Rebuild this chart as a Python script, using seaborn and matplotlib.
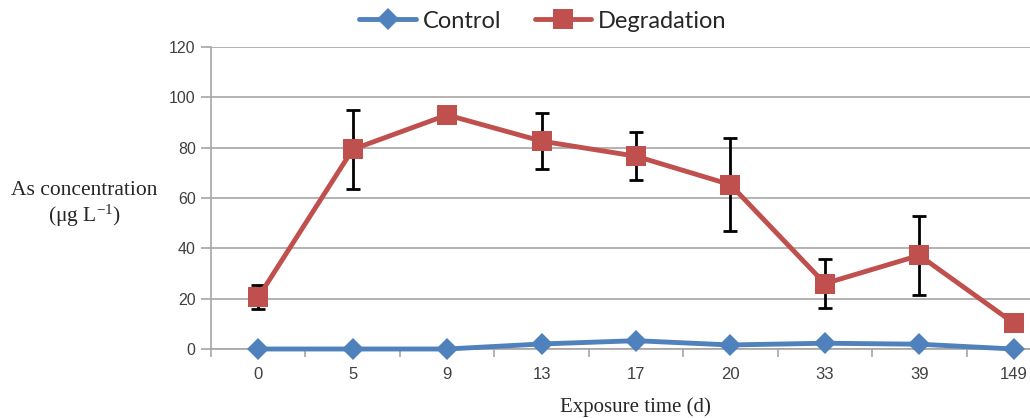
import pandas as pd
import matplotlib.pyplot as plt
import seaborn as sns
import numpy as np

# exposure days (categorical axis)
days = ['0', '5', '9', '13', '17', '20', '33', '39', '149']

# As concentration
control = [0.0, 0.0, 0.0, 2.0, 3.3, 1.6, 2.3, 1.9, 0.0]
degradation = [20.5, 79.3, 93.0, 82.6, 76.6, 65.3, 26.0, 37.2, 10.3]
degradation_err = [4.8, 15.8, 0.0, 11.2, 9.5, 18.6, 9.7, 15.6, 0.0]

ctrl_df = pd.DataFrame({'day': days, 'conc': control})
deg_df = pd.DataFrame({'day': days, 'conc': degradation})

sns.set_style('white')
plt.rcParams['font.family'] = ['Liberation Sans', 'DejaVu Sans']

blue = '#4F81BD'
red = '#C0504D'
grid_col = '#A6A6A6'

fig = plt.figure(figsize=(10.30, 4.18), dpi=100)
ax = fig.add_axes([211 / 1030, 1 - 349 / 418, 850 / 1030, 302 / 418])

sns.lineplot(data=ctrl_df, x='day', y='conc', color=blue, marker='D',
             markersize=11, markeredgewidth=0, linewidth=3.5, sort=False,
             label='Control', ax=ax, zorder=3, clip_on=False)
sns.lineplot(data=deg_df, x='day', y='conc', color=red, marker='s',
             markersize=14, markeredgewidth=0, linewidth=3.5, sort=False,
             label='Degradation', ax=ax, zorder=3, clip_on=False)

# error bars on degradation series
ax.errorbar(days, degradation, yerr=degradation_err, fmt='none',
            ecolor='black', elinewidth=2, capsize=5, capthick=2, zorder=2)

ax.set_xlim(-0.5, len(days) - 0.5)
ax.set_ylim(0, 120)
ax.set_yticks(np.arange(0, 121, 20))
ax.yaxis.grid(True, color=grid_col, linewidth=1.2)
ax.set_axisbelow(True)

for s in ['top', 'right']:
    ax.spines[s].set_visible(False)
for s in ['left', 'bottom']:
    ax.spines[s].set_color(grid_col)
    ax.spines[s].set_linewidth(1.2)

ax.tick_params(axis='y', direction='out', length=7, width=1.2, color=grid_col,
               labelsize=11.5, labelcolor='#404040', pad=4, left=True)
ax.tick_params(axis='x', which='major', length=0, labelsize=12,
               labelcolor='#404040', pad=13)
ax.set_xticks(np.arange(-0.5, len(days), 1), minor=True)
ax.tick_params(axis='x', which='minor', direction='out', length=6, width=1.2,
               color=grid_col, bottom=True)

ax.set_xlabel('')
ax.set_ylabel('')
fig.text(84 / 1030, 1 - 190 / 418, 'As concentration', ha='center', va='center',
         family='Liberation Serif', fontsize=15.5)
fig.text(84 / 1030, 1 - 216 / 418, r'($\mathregular{\mu}$g L$\mathregular{^{-1}}$)',
         ha='center', va='center', family='Liberation Serif', fontsize=15.5)
fig.text(635 / 1030, 1 - 407 / 418, 'Exposure time (d)', ha='center', va='center',
         family='Liberation Serif', fontsize=15)

ax.legend(loc='center', bbox_to_anchor=(543 / 1030, 1 - 21 / 418),
          bbox_transform=fig.transFigure, ncol=2, frameon=False,
          prop={'family': 'Lato', 'size': 17}, handlelength=2.4,
          columnspacing=1.4, handletextpad=0.3)

plt.savefig('out.png', dpi=100)
